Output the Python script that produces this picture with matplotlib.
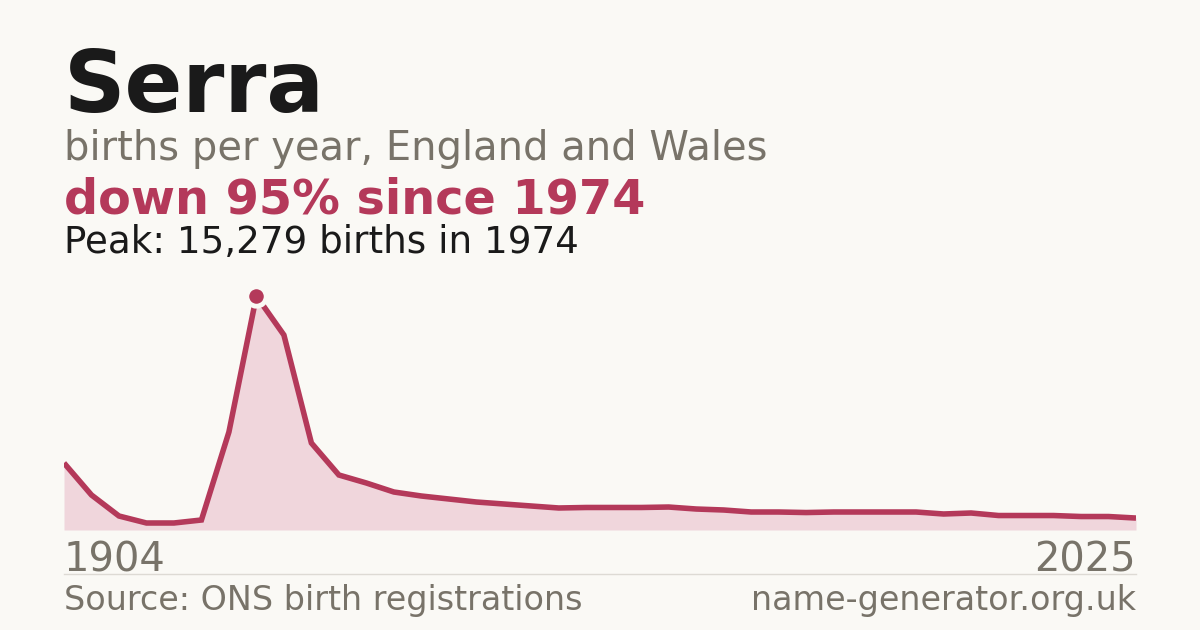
import matplotlib.pyplot as plt

# births per year (evenly spaced points, 1904 -> 2025)
births = [4375, 2285, 914, 457, 457, 653, 6399, 15279, 12733, 5681,
          3591, 3069, 2481, 2220, 2024, 1828, 1698, 1567, 1437, 1470,
          1470, 1470, 1500, 1370, 1306, 1175, 1175, 1140, 1175, 1175,
          1175, 1175, 1045, 1110, 945, 945, 945, 880, 880, 780]
first_year = "1904"
last_year = "2025"
peak_value = 15279
peak_year = 1974

BG = "#faf9f5"
CRIMSON = "#b4395a"
FILL = "#f0d6dc"
GREY = "#787369"
DARK = "#1a1a1a"
RULE = "#dddad4"

W, H = 1200, 630
fig = plt.figure(figsize=(12, 6.3), dpi=100, facecolor=BG)

# plot area in pixels: x 64..1136, baseline y=530, peak at y=296
left, right, base, top = 64, 1136, 530, 296
ax = fig.add_axes([left / W, (H - base) / H, (right - left) / W, (base - top) / H])
ax.set_facecolor("none")
x = list(range(len(births)))
peak_i = births.index(max(births))

ax.fill_between(x, births, 0, color=FILL, lw=0)
ax.plot(x, births, color=CRIMSON, lw=4, solid_joinstyle="miter", solid_capstyle="butt")
ax.plot([peak_i], [births[peak_i]], "o", ms=14, color=CRIMSON,
        mec=BG, mew=3.5, clip_on=False, zorder=5)
ax.set_xlim(0, len(births) - 1)
ax.set_ylim(0, peak_value)
ax.axis("off")


def px(xp, yp):
    return xp / W, 1 - yp / H


fig.text(*px(64, 112), "Serra", fontsize=61.5, fontweight="bold", color=DARK, va="baseline")
fig.text(*px(64, 160), "births per year, England and Wales", fontsize=28.8, color=GREY, va="baseline")
fig.text(*px(64, 214), "down 95% since " + str(peak_year), fontsize=34.4, fontweight="bold",
         color=CRIMSON, va="baseline")
fig.text(*px(64, 253), f"Peak: {peak_value:,} births in {peak_year}", fontsize=26.8,
         color=DARK, va="baseline")

fig.text(*px(64, 571), first_year, fontsize=28.8, color=GREY, va="baseline")
fig.text(*px(1136, 571), last_year, fontsize=28.8, color=GREY, va="baseline", ha="right")

fig.add_artist(plt.Line2D([64 / W, 1136 / W], [1 - 574 / H] * 2, color=RULE, lw=1))
fig.text(*px(64, 610), "Source: ONS birth registrations", fontsize=24, color=GREY, va="baseline")
fig.text(*px(1136, 610), "name-generator.org.uk", fontsize=24, color=GREY, va="baseline", ha="right")

fig.savefig("out.png", dpi=100, facecolor=BG)
